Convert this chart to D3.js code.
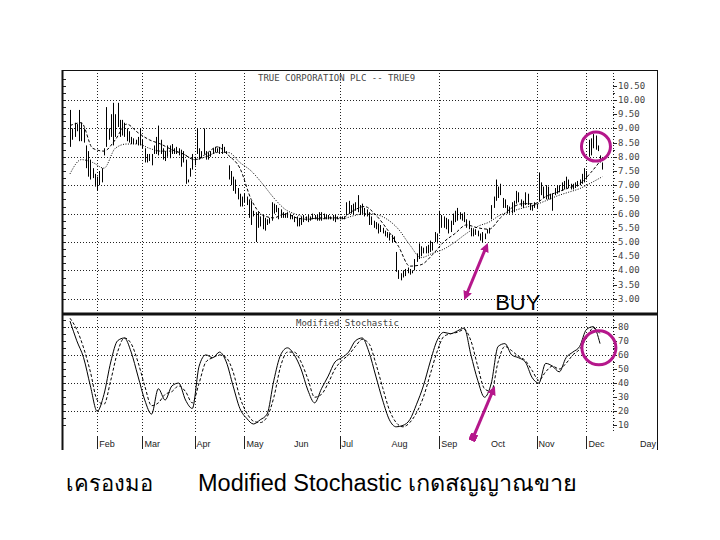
<!DOCTYPE html>
<html><head><meta charset="utf-8">
<script src="https://cdn.jsdelivr.net/npm/d3@7"></script>
<style>body{margin:0;background:#fff}svg{display:block}</style>
</head><body><svg id="c" width="720" height="540"></svg>
<script>
// ---------- DATA ----------
const highs=[9.65,9.0,9.2,9.15,9.65,9.2,9.0,8.4,8.2,7.9, 7.6,7.4,7.3,7.5,7.6,8.3,9.75,9.0,9.5,9.9,
9.5,9.9,9.3,9.3,9.2,9.0,8.9,8.7,8.65,8.6, 8.7,9.0,8.6,8.3,8.1,8.1,8.1,8.4,8.7,9.1,
8.6,8.3,8.2,8.4,8.4,8.45,8.3,8.35,8.3,8.25, 8.2,7.9,7.2,7.6,8.1,8.0,9.0,8.3,8.2,9.0,
8.2,8.15,8.2,8.3,8.35,8.3,8.35,8.45,8.35,8.2, 7.7,7.5,7.3,7.2,6.9,6.7,6.6,6.7,6.6,6.5,
6.45,6.1,6.05,6.05,5.9,5.95,5.85,5.8,5.85,6.4, 6.35,6.3,6.2,6.15,6.05,6.0,6.05,6.0,5.95,5.9,
5.9,5.85,5.9,5.95,5.9,5.95,5.9,6.0,5.95,5.95, 6.05,6.05,6.0,5.95,5.95,5.9,5.95,5.95,5.9,5.9,
5.9,5.9,6.4,6.45,6.3,6.35,6.4,6.65,6.3,6.35, 6.2,6.15,6.05,5.9,5.75,5.7,5.65,5.6,5.5,5.4,
5.35,5.3,5.25,5.2,4.65,4.0,3.9,4.0,4.05,4.1, 4.05,4.0,4.4,4.6,4.95,4.85,4.8,4.85,4.9,5.05,
5.0,5.35,5.3,6.1,5.95,5.9,5.85,5.8,5.75,6.0, 6.1,6.2,6.05,6.0,6.05,5.8,5.75,5.5,5.45,5.45,
5.4,5.3,5.35,5.3,5.45,5.5,6.3,6.6,7.2,6.95, 7.05,6.55,6.5,6.3,6.25,6.4,6.45,6.8,6.75,6.5,
6.45,6.75,6.7,6.35,6.3,6.4,6.35,7.45,7.1,6.95, 7.0,6.95,6.7,6.7,6.9,7.0,7.0,7.1,7.15,7.3,
7.2,7.05,7.05,7.1,7.15,7.2,7.4,7.6,7.5,8.6, 8.65,8.8,8.75,8.4,8.05,7.8];
const lows=[8.35,8.6,8.7,8.9,8.55,8.55,8.5,7.6,7.3,7.2, 7.25,6.95,6.8,7.0,7.1,8.05,8.35,8.6,8.7,8.4,
8.7,9.05,8.7,8.75,8.7,8.55,8.5,8.45,8.45,8.45, 8.4,8.4,8.3,7.8,7.8,7.85,7.7,8.1,8.1,8.05,
8.1,7.9,7.85,8.0,7.95,8.1,8.1,8.1,8.05,7.65, 7.8,7.05,7.1,7.3,7.55,7.7,8.1,7.9,7.95,8.1,
7.9,7.9,8.0,8.1,8.15,8.15,8.1,8.1,8.15,8.1, 7.2,7.0,6.8,6.7,6.5,6.25,6.25,6.4,6.3,5.85,
5.6,5.9,5.0,5.5,5.55,5.45,5.4,5.6,5.65,5.75, 6.0,6.05,5.8,5.85,5.85,5.85,5.85,5.8,5.8,5.7,
5.55,5.55,5.6,5.7,5.75,5.7,5.75,5.8,5.8,5.75, 5.75,5.75,5.8,5.8,5.8,5.8,5.75,5.7,5.8,5.8,
5.8,5.8,5.95,6.0,6.0,5.95,6.1,6.05,5.95,6.0, 5.9,5.9,5.6,5.6,5.5,5.45,5.3,5.35,5.3,5.2,
5.15,5.05,5.0,5.0,3.95,3.7,3.65,3.75,3.8,3.9, 3.85,3.9,4.0,4.3,4.4,4.5,4.6,4.6,4.6,4.65,
4.7,5.0,4.95,5.3,5.5,5.5,5.45,5.3,5.35,5.6, 5.7,5.75,5.8,5.75,5.7,5.5,5.45,5.2,5.2,5.25,
5.2,5.05,5.0,5.1,5.3,5.3,5.8,6.2,6.45,6.55, 6.65,6.2,6.2,6.0,6.0,6.0,6.05,6.35,6.4,6.25,
6.2,6.3,6.3,6.12,6.1,6.2,6.2,6.45,6.65,6.55, 6.5,6.5,6.5,6.1,6.65,6.7,6.75,6.8,6.85,6.9,
6.9,6.85,6.85,6.9,6.95,7.0,7.05,7.1,7.2,8.0, 8.05,8.3,8.25,8.2,7.8,7.55];
// moving averages, one value every 5 trading days
const maFast=[9.1,9.2,8.3,8.2,8.6,9.15,8.85,8.6,8.45,8.25, 8.1,7.9,8.1,8.35,8.05,7.6,6.5,5.95,5.85,6.0,
5.85,5.8,5.85,5.85,5.85,6.1,6.25,5.95,5.45,4.85, 4.15,4.2,4.55,5.0,5.3,5.6,5.5,5.45,5.85,6.2,
6.35,6.35,6.6,6.75,6.9,7.05,7.45,7.95];
const maSlow=[7.4,7.9,7.8,7.6,8.3,8.45,8.45,8.3,8.2,8.2, 8.1,7.9,8.0,8.15,8.15,7.8,7.5,7.05,6.55,6.15,
5.97,5.85,5.82,5.82,5.82,5.92,6.0,5.97,5.8,5.45, 4.9,4.45,4.6,4.75,5.0,5.3,5.55,5.7,5.95,6.08,
6.2,6.3,6.45,6.62,6.75,6.88,7.08,7.3];
// modified stochastic, one value every 3 trading days
const stochK=[84,70,58,38,20,32,55,70,72,62, 45,28,18,36,28,38,40,28,22,52, 60,58,62,55,38,22,15,11,14,18,
42,60,65,60,50,35,26,36,45,55, 58,62,70,72,62,45,28,14,9,10, 14,25,38,55,70,76,75,77,79,60,
42,30,40,66,68,60,58,55,44,40, 54,52,48,58,62,66,78,80,68];
const stochD=[86,78,65,48,28,25,42,62,72,68, 55,38,24,26,32,34,38,34,26,40, 55,58,60,58,48,30,19,13,12,16,
30,52,62,62,55,43,30,32,40,50, 56,60,66,71,68,54,37,21,12,9, 12,19,30,46,62,73,75,76,78,70,
52,36,34,55,66,63,59,56,49,42, 48,52,50,54,60,64,72,79,75];
const months=["Feb","Mar","Apr","May","Jun","Jul","Aug","Sep","Oct","Nov","Dec"];
const monthStart=[12,32,55,77,98,119,141,163,185,206,228];
const monthMarked=[true,true,true,true,false,true,false,true,false,true,true];
const priceTicks=["10.50","10.00","9.50","9.00","8.50","8.00","7.50","7.00","6.50","6.00","5.50","5.00","4.50","4.00","3.50","3.00"];
const stochTicks=["80","70","60","50","40","30","20","10"];
const title="TRUE CORPORATION PLC -- TRUE9";

// ---------- DRAW ----------
const svg=d3.select("#c");
const L=62,R=657,T=70,SEP=314,B=450,AX=613,SB=433;
const x=d3.scaleLinear().domain([0,highs.length-1]).range([70,602.3]);
const y=d3.scaleLinear().domain([3,10]).range([298.8,100]);
const ys=d3.scaleLinear().domain([10,80]).range([425.4,326.7]);
const px=v=>Math.round(v)+0.5;

svg.append("rect").attr("width",720).attr("height",540).attr("fill","#fff");

// grid
const g=svg.append("g").attr("stroke","#222").attr("stroke-width",1).attr("stroke-dasharray","1,2");
priceTicks.map(Number).filter(v=>v%1===0).forEach(v=>{
  g.append("line").attr("x1",L).attr("x2",AX).attr("y1",px(y(v))).attr("y2",px(y(v)));
});
[20,40,60,80].forEach(v=>{
  g.append("line").attr("x1",L).attr("x2",AX).attr("y1",px(ys(v))).attr("y2",px(ys(v)));
});
monthStart.forEach((m,k)=>{
  if(!monthMarked[k])return;
  g.append("line").attr("x1",px(x(m))).attr("x2",px(x(m))).attr("y1",T).attr("y2",SEP);
  g.append("line").attr("x1",px(x(m))).attr("x2",px(x(m))).attr("y1",SEP).attr("y2",SB);
});
g.append("line").attr("x1",AX+0.5).attr("x2",AX+0.5).attr("y1",T).attr("y2",SB);

// axis ticks right & left
const tk=svg.append("g").attr("stroke","#222").attr("stroke-width",1);
d3.range(3,10.76,0.25).forEach(v=>{
  tk.append("line").attr("x1",AX).attr("x2",AX+(v*2%1===0?4:2)).attr("y1",px(y(v))).attr("y2",px(y(v)));
  tk.append("line").attr("x1",L+1).attr("x2",L+4).attr("y1",px(y(v))).attr("y2",px(y(v)));
});
d3.range(10,86,5).forEach(v=>{
  tk.append("line").attr("x1",AX).attr("x2",AX+(v%10===0?4:2)).attr("y1",px(ys(v))).attr("y2",px(ys(v)));
  tk.append("line").attr("x1",L+1).attr("x2",L+4).attr("y1",px(ys(v))).attr("y2",px(ys(v)));
});

// frame
const fr=svg.append("g").attr("stroke","#111");
fr.append("line").attr("x1",L).attr("x2",R).attr("y1",T+0.5).attr("y2",T+0.5).attr("stroke-width",1);
fr.append("line").attr("x1",L+0.5).attr("x2",L+0.5).attr("y1",T).attr("y2",B).attr("stroke-width",2);
fr.append("line").attr("x1",R+0.5).attr("x2",R+0.5).attr("y1",T).attr("y2",B).attr("stroke-width",1);
fr.append("line").attr("x1",L).attr("x2",R).attr("y1",SEP).attr("y2",SEP).attr("stroke-width",3);

// labels
const lab=svg.append("g").attr("font-family","DejaVu Sans Mono").attr("font-size",9).attr("fill","#444");
priceTicks.forEach(t=>lab.append("text").attr("x",AX+5).attr("y",y(+t)+3).text(t));
stochTicks.forEach(t=>lab.append("text").attr("x",AX+5).attr("y",ys(+t)+3).text(t));
lab.append("text").attr("x",258).attr("y",81).text(title);
lab.append("text").attr("x",296).attr("y",326).text("Modified Stochastic");

const ml=svg.append("g").attr("font-family","Liberation Sans").attr("font-size",9).attr("fill","#222");
monthStart.forEach((m,k)=>{
  if(monthMarked[k]) svg.append("line").attr("stroke","#222").attr("x1",px(x(m))).attr("x2",px(x(m))).attr("y1",436).attr("y2",449);
  ml.append("text").attr("x",x(m)+2).attr("y",447).text(months[k]);
});
ml.append("text").attr("x",640).attr("y",447).text("Day");

// price bars
svg.append("g").attr("stroke","#000").attr("stroke-width",1)
 .selectAll("line").data(highs).join("line")
 .attr("x1",(d,i)=>px(x(i))).attr("x2",(d,i)=>px(x(i)))
 .attr("y1",d=>y(d)).attr("y2",(d,i)=>Math.max(y(lows[i]),y(d)+2));

// moving averages
const maDays=d3.range(0,highs.length,5);
const lineP=d3.line().x((d,i)=>x(maDays[i])).y(d=>y(d)).curve(d3.curveMonotoneX);
svg.append("path").attr("d",lineP(maFast)).attr("fill","none").attr("stroke","#000").attr("stroke-width",1).attr("stroke-dasharray","3,2");
svg.append("path").attr("d",lineP(maSlow)).attr("fill","none").attr("stroke","#000").attr("stroke-width",1).attr("stroke-dasharray","1,1.5");

// stochastic
const stDays=d3.range(0,highs.length,3);
const lineS=d3.line().x((d,i)=>x(stDays[i])).y(d=>ys(d)).curve(d3.curveMonotoneX);
svg.append("path").attr("d",lineS(stochK)).attr("fill","none").attr("stroke","#000").attr("stroke-width",1);
svg.append("path").attr("d",lineS(stochD)).attr("fill","none").attr("stroke","#000").attr("stroke-width",1).attr("stroke-dasharray","3,2");

// annotations
const MAG="#b5178b";
const defs=svg.append("defs");
defs.append("marker").attr("id","ah").attr("viewBox","0 0 10 10").attr("refX",5).attr("refY",5)
 .attr("markerWidth",3).attr("markerHeight",3).attr("orient","auto-start-reverse")
 .append("path").attr("d","M0,0L10,5L0,10z").attr("fill",MAG);
defs.append("marker").attr("id","sq").attr("viewBox","0 0 10 10").attr("refX",5).attr("refY",5)
 .attr("markerWidth",2.5).attr("markerHeight",2.5).attr("orient","auto")
 .append("rect").attr("width",10).attr("height",10).attr("fill",MAG);
svg.append("line").attr("x1",x(174.8)).attr("y1",y(3.1)).attr("x2",x(183.7)).attr("y2",y(4.82))
 .attr("stroke",MAG).attr("stroke-width",3).attr("marker-start","url(#ah)").attr("marker-end","url(#ah)");
svg.append("line").attr("x1",x(178)).attr("y1",ys(1.5)).attr("x2",x(186.8)).attr("y2",ys(35))
 .attr("stroke",MAG).attr("stroke-width",3).attr("marker-start","url(#sq)").attr("marker-end","url(#ah)");
svg.append("circle").attr("cx",x(232.2)).attr("cy",y(8.36)).attr("r",14.5).attr("fill","none").attr("stroke",MAG).attr("stroke-width",3);
svg.append("circle").attr("cx",x(233.5)).attr("cy",ys(65)).attr("r",17).attr("fill","none").attr("stroke",MAG).attr("stroke-width",3);
svg.append("text").attr("x",x(187.7)).attr("y",310).attr("font-family","Liberation Sans").attr("font-size",22).attr("fill","#000").text("BUY");

// caption
const cap=svg.append("g").attr("font-family","Liberation Sans, Noto Sans, DejaVu Sans").attr("fill","#000");
cap.append("text").attr("x",66).attr("y",491).attr("font-size",22).text("เครองมอ");
cap.append("text").attr("x",198).attr("y",491).attr("font-size",23.5).text("Modified Stochastic เกดสญญาณขาย");
</script></body></html>
